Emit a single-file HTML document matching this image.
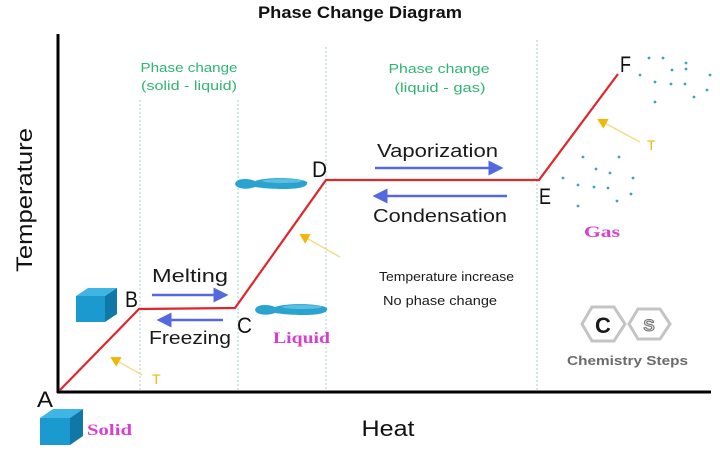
<!DOCTYPE html>
<html><head><meta charset="utf-8"><style>
html,body{margin:0;padding:0;background:#fff;}
svg{display:block;}
text{font-family:"Liberation Sans",sans-serif;}
</style></head><body>
<svg width="720" height="451" viewBox="0 0 720 451" xmlns="http://www.w3.org/2000/svg">
<defs>
<marker id="bh" markerWidth="6" markerHeight="6" refX="5" refY="3" orient="auto" markerUnits="strokeWidth">
<path d="M0,0 L6,3 L0,6 z" fill="#5468e0"/></marker>
<marker id="yh" markerWidth="11" markerHeight="11" refX="8" refY="5.5" orient="auto" markerUnits="userSpaceOnUse">
<path d="M0,0 L10,5.5 L0,11 z" fill="#f2b705"/></marker>
</defs>
<rect width="720" height="451" fill="#fff"/>
<!-- title -->
<text x="360" y="18" text-anchor="middle" font-weight="bold" font-size="17" textLength="204" lengthAdjust="spacingAndGlyphs" fill="#111">Phase Change Diagram</text>
<!-- dotted verticals -->
<g stroke="#a8cfcc" stroke-width="1" stroke-dasharray="2,2">
<line x1="140" y1="100" x2="140" y2="390"/>
<line x1="238" y1="100" x2="238" y2="390"/>
<line x1="326" y1="47" x2="326" y2="390"/>
<line x1="537" y1="40" x2="537" y2="390"/>
</g>
<!-- axes -->
<line x1="58" y1="34" x2="58" y2="393" stroke="#000" stroke-width="3"/>
<line x1="57" y1="392" x2="711" y2="392" stroke="#000" stroke-width="3"/>
<!-- red line -->
<polyline points="60,390 139,309 235,308 326,180 539,180 618,74" fill="none" stroke="#e0262a" stroke-width="2.2"/>
<!-- green labels -->
<g fill="#2fb573" font-size="13">
<text x="189" y="72" text-anchor="middle" textLength="97" lengthAdjust="spacingAndGlyphs">Phase change</text>
<text x="189" y="90" text-anchor="middle" textLength="96" lengthAdjust="spacingAndGlyphs">(solid - liquid)</text>
<text x="439" y="73" text-anchor="middle" textLength="101" lengthAdjust="spacingAndGlyphs">Phase change</text>
<text x="440" y="92" text-anchor="middle" textLength="91" lengthAdjust="spacingAndGlyphs">(liquid - gas)</text>
</g>
<!-- axis labels -->
<text x="388" y="436" text-anchor="middle" font-size="22" textLength="53" lengthAdjust="spacingAndGlyphs" fill="#111">Heat</text>
<text transform="translate(32,200) rotate(-90)" text-anchor="middle" font-size="22" textLength="144" lengthAdjust="spacingAndGlyphs" fill="#111">Temperature</text>
<!-- point labels -->
<g font-size="22" fill="#111">
<text x="37" y="407" textLength="16" lengthAdjust="spacingAndGlyphs">A</text>
<text x="125" y="307" textLength="13" lengthAdjust="spacingAndGlyphs">B</text>
<text x="237" y="333" textLength="15" lengthAdjust="spacingAndGlyphs">C</text>
<text x="312" y="177" textLength="15" lengthAdjust="spacingAndGlyphs">D</text>
<text x="539" y="204" textLength="12" lengthAdjust="spacingAndGlyphs">E</text>
<text x="620" y="72" textLength="11" lengthAdjust="spacingAndGlyphs">F</text>
</g>
<!-- process texts -->
<g font-size="18" fill="#1a1a1a">
<text x="152" y="282" textLength="76" lengthAdjust="spacingAndGlyphs">Melting</text>
<text x="149" y="344" textLength="82" lengthAdjust="spacingAndGlyphs">Freezing</text>
<text x="377" y="157" textLength="121" lengthAdjust="spacingAndGlyphs">Vaporization</text>
<text x="373" y="222" textLength="134" lengthAdjust="spacingAndGlyphs">Condensation</text>
</g>
<g font-size="13" fill="#1a1a1a">
<text x="379" y="281" textLength="135" lengthAdjust="spacingAndGlyphs">Temperature increase</text>
<text x="383" y="305" textLength="114" lengthAdjust="spacingAndGlyphs">No phase change</text>
</g>
<!-- blue arrows -->
<g stroke="#5468e0" stroke-width="2.5" marker-end="url(#bh)">
<line x1="152" y1="295" x2="226" y2="295"/>
<line x1="223" y1="320" x2="159" y2="320"/>
<line x1="375" y1="168" x2="501" y2="168"/>
<line x1="507" y1="196" x2="375" y2="196"/>
</g>
<!-- yellow T arrows -->
<g stroke="#f3dc8a" stroke-width="1.5" marker-end="url(#yh)">
<line x1="142" y1="375" x2="112" y2="358"/>
<line x1="340" y1="257" x2="301" y2="235"/>
<line x1="640" y1="142" x2="599" y2="120"/>
</g>
<g fill="#f2b705" font-size="14">
<text x="152" y="384">T</text>
<text x="647" y="150">T</text>
</g>
<!-- cubes -->
<g>
<polygon points="76,296 88,288 117,288 105,296" fill="#3fb5e3"/>
<polygon points="105,296 117,288 117,314 105,322" fill="#0f78a6"/>
<rect x="76" y="296" width="29" height="26" fill="#1b9ad0"/>
<polygon points="40,418 53,409 83,409 70,418" fill="#3fb5e3"/>
<polygon points="70,418 83,409 83,436 70,445" fill="#0f78a6"/>
<rect x="40" y="418" width="30" height="27" fill="#1b9ad0"/>
</g>
<!-- liquid blobs -->
<g fill="#2aa3cf">
<path d="M235,184 C236,178 248,178 255,181 C265,177 300,177 307,182 C309,187 298,189 285,189 C270,189 262,188 255,187 C247,190 236,189 235,184 z"/>
<path d="M255,310 C256,304 268,304 275,307 C285,303 320,303 327,308 C329,313 318,315 305,315 C290,315 282,314 275,313 C267,316 256,315 255,310 z"/>
</g>
<g fill="#6fcaea" opacity="0.7">
<ellipse cx="282" cy="181" rx="20" ry="2"/>
<ellipse cx="302" cy="307" rx="20" ry="2"/>
</g>
<!-- gas dots -->
<g fill="#3aa6b6">
<circle cx="649" cy="58" r="1.4"/><circle cx="663" cy="58" r="1.4"/><circle cx="686" cy="63" r="1.4"/>
<circle cx="686" cy="69" r="1.4"/><circle cx="672" cy="70" r="1.4"/><circle cx="640" cy="75" r="1.4"/>
<circle cx="710" cy="75" r="1.4"/><circle cx="655" cy="82" r="1.4"/><circle cx="671" cy="84" r="1.4"/>
<circle cx="685" cy="84" r="1.4"/><circle cx="707" cy="90" r="1.4"/><circle cx="694" cy="97" r="1.4"/>
<circle cx="655" cy="102" r="1.4"/>
<circle cx="583" cy="157" r="1.4"/><circle cx="619" cy="157" r="1.4"/><circle cx="596" cy="169" r="1.4"/>
<circle cx="610" cy="173" r="1.4"/><circle cx="563" cy="178" r="1.4"/><circle cx="633" cy="178" r="1.4"/>
<circle cx="578" cy="185" r="1.4"/><circle cx="594" cy="187" r="1.4"/><circle cx="608" cy="188" r="1.4"/>
<circle cx="631" cy="194" r="1.4"/><circle cx="617" cy="201" r="1.4"/><circle cx="578" cy="206" r="1.4"/>
</g>
<!-- state labels -->
<g fill="#d63fd0" font-weight="bold" font-size="16">
<text x="87" y="435" textLength="45" lengthAdjust="spacingAndGlyphs" style="font-family:'Liberation Serif',serif">Solid</text>
<text x="273" y="343" textLength="57" lengthAdjust="spacingAndGlyphs" style="font-family:'Liberation Serif',serif">Liquid</text>
<text x="584" y="237" textLength="36" lengthAdjust="spacingAndGlyphs" style="font-family:'Liberation Serif',serif">Gas</text>
</g>
<!-- logo -->
<g fill="none" stroke="#c4c4c4" stroke-width="3">
<polygon points="582,324 592,307 614,307 625,324 614,341 592,341"/>
<polygon points="629,324 638,309 660,309 670,324 660,339 638,339"/>
</g>
<text x="603" y="333" text-anchor="middle" font-weight="bold" font-size="22" fill="#1a1a1a">C</text>
<text x="649" y="331" text-anchor="middle" font-weight="bold" font-size="17" fill="#e0e0e0" stroke="#707070" stroke-width="1">S</text>
<text x="567" y="365" font-weight="bold" font-size="13" fill="#6b6b6b" textLength="121" lengthAdjust="spacingAndGlyphs">Chemistry Steps</text>
</svg>
</body></html>
